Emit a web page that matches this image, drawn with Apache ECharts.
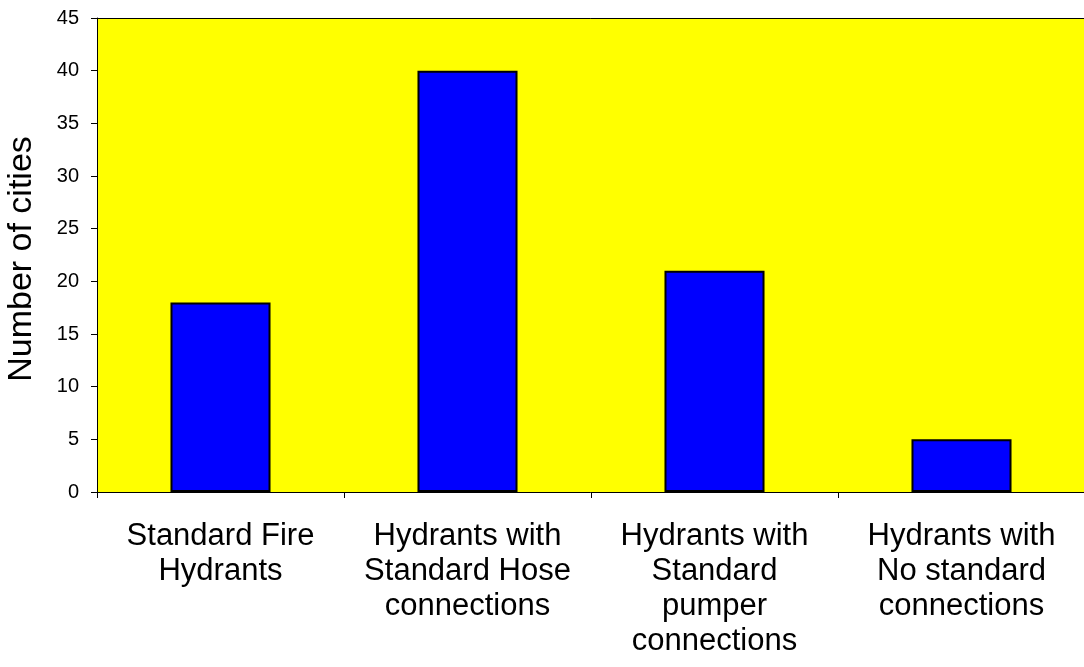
<!DOCTYPE html>
<html>
<head>
<meta charset="utf-8">
<script src="https://cdn.jsdelivr.net/npm/echarts@6/dist/echarts.min.js"></script>
<style>
    html, body { margin: 0; padding: 0; background: #fff; }
    #chart { width: 1084px; height: 667px; }
</style>
</head>
<body>
<div id="chart"></div>
<script>
    var categories = [
        'Standard Fire\nHydrants',
        'Hydrants with\nStandard Hose\nconnections',
        'Hydrants with\nStandard\npumper\nconnections',
        'Hydrants with\nNo standard\nconnections'
    ];
    var cityCounts = [18, 40, 21, 5];
    var yTicks = { min: 0, max: 45, interval: 5 };

    var FONT = '"Liberation Sans", Arial, sans-serif';

    var chart = echarts.init(document.getElementById('chart'));

    chart.setOption({
        animation: false,
        grid: {
            left: 97,
            right: -1,
            top: 18,
            bottom: 175,
            outerBoundsMode: 'none',
            containLabel: false,
            show: true,
            backgroundColor: '#ffff00',
            borderWidth: 0
        },
        xAxis: [{
            type: 'category',
            data: categories,
            axisLine: { lineStyle: { color: '#000', width: 1 } },
            axisTick: { show: true, length: 6, lineStyle: { color: '#000' } },
            axisLabel: {
                color: '#000',
                fontFamily: FONT,
                fontSize: 31,
                lineHeight: 35,
                margin: 27,
                interval: 0
            }
        }, {
            type: 'category',
            position: 'top',
            data: categories,
            axisLine: { show: true, lineStyle: { color: '#000', width: 1 } },
            axisTick: { show: false },
            axisLabel: { show: false }
        }],
        yAxis: {
            type: 'value',
            min: yTicks.min,
            max: yTicks.max,
            interval: yTicks.interval,
            name: 'Number of cities',
            nameLocation: 'middle',
            nameGap: 58,
            nameTextStyle: { color: '#000', fontFamily: FONT, fontSize: 34, padding: [0, 8, 0, 0] },
            axisLine: { show: true, lineStyle: { color: '#000', width: 1 } },
            axisTick: { show: true, length: 6, lineStyle: { color: '#000' } },
            splitLine: { show: false },
            axisLabel: { color: '#000', fontFamily: FONT, fontSize: 20, margin: 18 }
        },
        series: [{
            type: 'bar',
            data: cityCounts,
            barWidth: '40.5%',
            itemStyle: { color: '#0000ff', borderColor: '#000', borderWidth: 2 }
        }]
    });
</script>
</body>
</html>
